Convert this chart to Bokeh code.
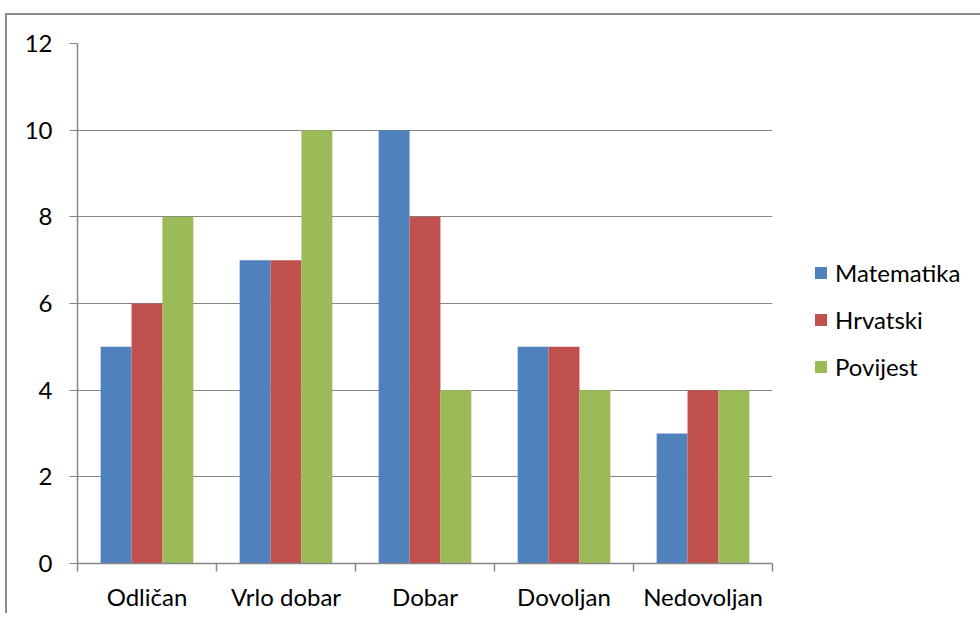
from bokeh.plotting import figure
from bokeh.models import FixedTicker, Legend, LegendItem, LinearAxis, Grid
from bokeh.embed import file_html
from bokeh.resources import INLINE

categories = ["Odličan", "Vrlo dobar", "Dobar", "Dovoljan", "Nedovoljan"]
series_names = ["Matematika", "Hrvatski", "Povijest"]
matematika = [5, 7, 10, 5, 3]
hrvatski = [6, 7, 8, 5, 4]
povijest = [8, 10, 4, 4, 4]
colors = ["#4F81BD", "#C0504D", "#9BBB59"]
y_ticks = [0, 2, 4, 6, 8, 10, 12]

FONT = "Lato"
GRAY = "#868686"
FS = "24px"

p = figure(
    output_backend="svg", toolbar_location=None,
    frame_width=695, frame_height=520,
    min_border_left=70, min_border_right=190, min_border_top=28, min_border_bottom=45,
    x_range=(0, len(categories)), y_range=(0, 12),
    x_axis_type=None, y_axis_type=None,
)
p.margin = (13, 0, 0, 5)
p.styles = {"border-top": "2px solid #8c8c8c", "border-left": "2px solid #8c8c8c"}
p.outline_line_color = None
p.background_fill_color = "white"
p.border_fill_color = "white"

# y axis
yaxis = LinearAxis(ticker=FixedTicker(ticks=y_ticks, minor_ticks=[]))
yaxis.axis_line_color = GRAY
yaxis.axis_line_width = 1.5
yaxis.major_tick_line_color = GRAY
yaxis.major_tick_in = 0
yaxis.major_tick_out = 8
yaxis.minor_tick_line_color = None
yaxis.major_label_standoff = 17
yaxis.major_label_text_font = FONT
yaxis.major_label_text_font_size = FS
yaxis.major_label_text_color = "black"
p.add_layout(yaxis, "left")

# x axis: labels at category centres, ticks at category boundaries
centers = [i + 0.5 for i in range(len(categories))]
bounds = [i for i in range(len(categories) + 1)]
xaxis = LinearAxis(ticker=FixedTicker(ticks=centers, minor_ticks=bounds))
xaxis.major_label_overrides = {c: name for c, name in zip(centers, categories)}
xaxis.axis_line_color = GRAY
xaxis.axis_line_width = 1.5
xaxis.major_tick_line_color = None
xaxis.major_tick_in = 0
xaxis.major_tick_out = 0
xaxis.minor_tick_line_color = GRAY
xaxis.minor_tick_line_width = 1.5
xaxis.minor_tick_in = 0
xaxis.minor_tick_out = 8
xaxis.major_label_standoff = 10
xaxis.major_label_text_font = FONT
xaxis.major_label_text_font_size = FS
xaxis.major_label_text_color = "black"
p.add_layout(xaxis, "below")

grid = Grid(dimension=1, ticker=yaxis.ticker, grid_line_color=GRAY, grid_line_width=1)
p.add_layout(grid)

# bars
bw = 1 / 4.5
renderers = []
for k, (name, vals) in enumerate(zip(series_names, [matematika, hrvatski, povijest])):
    xs = [c + (k - 1) * bw for c in centers]
    r = p.vbar(x=xs, top=vals, width=bw, bottom=0, fill_color=colors[k], line_color=None)
    renderers.append(r)

legend = Legend(
    items=[LegendItem(label=n, renderers=[r]) for n, r in zip(series_names, renderers)],
    location=(41, 182),
    glyph_width=15, glyph_height=15,
    label_text_font=FONT, label_text_font_size=FS, label_text_color="black",
    label_standoff=7, spacing=18, padding=5, margin=0,
    background_fill_alpha=0, border_line_color=None,
)
p.add_layout(legend, "right")

open("out.html", "w").write(file_html(p, INLINE))
